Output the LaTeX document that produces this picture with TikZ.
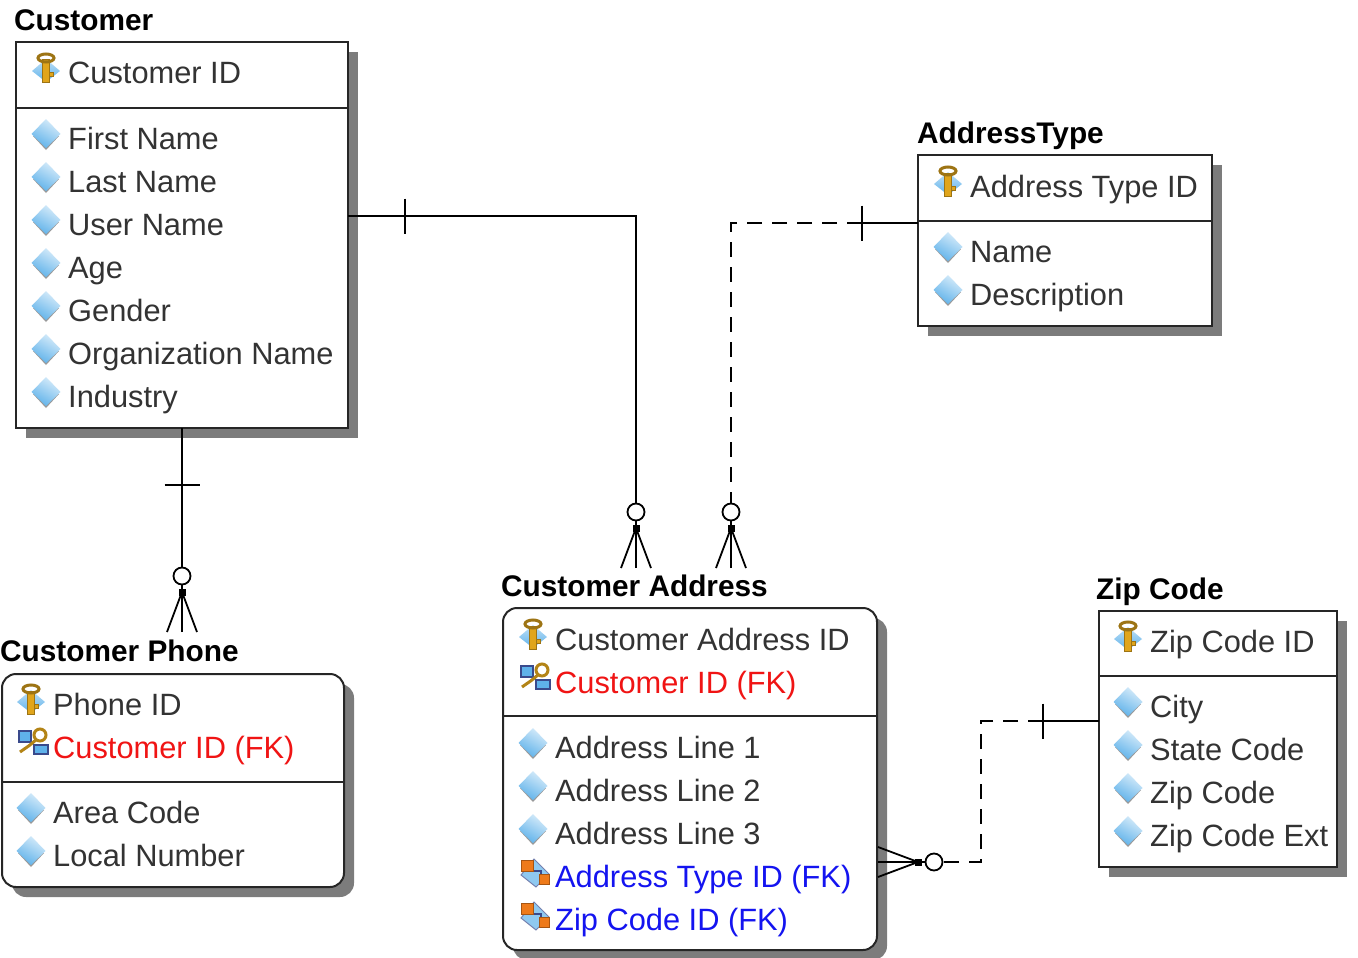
\documentclass[tikz,border=0pt]{standalone}
\usepackage{fontspec}
\setmainfont{Liberation Sans}
\usetikzlibrary{calc}
\usetikzlibrary{positioning}
\usetikzlibrary{shadows}

\definecolor{shadowgray}{HTML}{7C7C7C}
\definecolor{iconblue}{HTML}{5FB2EA}
\definecolor{icongold}{HTML}{E0A51C}
\definecolor{iconorange}{HTML}{EE7A1A}
\definecolor{iconnavy}{HTML}{3A4A8C}
\definecolor{fkblue}{HTML}{1414F0}
\definecolor{fkred}{HTML}{F01414}

\tikzset{
    pics/attricon/.style={code={
        \fill[gray!80] (-13,2) -- (0,16) -- (13,2) -- cycle;
        \shade[top color=iconblue!25, bottom color=iconblue, shading angle=-30] (-14.5,0) -- (0,-15) -- (14.5,0) -- (0,14) -- cycle;
    }},
    pics/pkicon/.style={code={
        \shade[top color=iconblue!40, bottom color=iconblue] (-14,2) -- (0,-10) -- (14,2) -- (0,13) -- cycle;
        \draw[icongold!70!black, fill=icongold, line width=1pt] (-3.5,-9) rectangle (3.5,14);
        \draw[icongold!70!black, fill=icongold, line width=1pt] (3,4) rectangle (7,8);
        \draw[icongold!70!black, line width=3pt] (0,-11) ellipse (8 and 4);
    }},
    pics/fkredicon/.style={code={
        \draw[iconnavy, fill=iconblue, line width=1.5pt] (-14,-11) rectangle (-2,0);
        \draw[iconnavy, fill=iconblue, line width=1.5pt] (1,3) rectangle (15,12);
        \draw[icongold!80!black, line width=3pt] (-13,10) -- (-3,3) -- (4,-3);
        \draw[icongold!80!black, fill=white, line width=3pt] (7,-7) circle (6);
    }},
    pics/fkblueicon/.style={code={
        \draw[iconnavy!70, fill=iconblue!70, line width=1pt] (-14,3) -- (-1,-13) -- (14,2) -- (1,15) -- cycle;
        \draw[iconnavy, line width=1.5pt] (-8,-1) -- (6,-1) -- (6,6);
        \draw[iconorange!70!black, fill=iconorange, line width=1pt] (-14,-12) rectangle (-2,-1);
        \draw[iconorange!70!black, fill=iconorange, line width=1pt] (4,2) rectangle (14,12);
    }},
    pics/crowfoot/.style={code={
        \draw[line width=1.8pt] (0,0) -- (0,-56);
        \draw[line width=1.8pt] (-15,0) -- (0,-40) -- (15,0);
        \fill (-3.5,-43.5) rectangle (3.5,-36.5);
        \draw[line width=1.8pt, fill=white] (0,-56) circle (8.5);
    }},
    pics/onetick/.style={code={
        \draw[line width=1.8pt] (0,-17.5) -- (0,17.5);
    }}
}

\begin{document}
\begin{tikzpicture}[x=1pt, y=-1pt,
    font=\fontsize{30.8pt}{34pt}\selectfont,
    tablebox/.style={draw=black!85, line width=2pt, fill=white, anchor=north west, inner sep=0pt, outer sep=0pt,
        drop shadow={shadow xshift=10pt, shadow yshift=-10pt, fill=shadowgray, opacity=1}},
    roundbox/.style={tablebox, rounded corners=14pt},
    tabletitle/.style={anchor=west, inner sep=0pt, text height=21pt, text depth=0pt, font=\fontsize{29.8pt}{34pt}\selectfont\bfseries},
    rowtext/.style={anchor=west, inner sep=0pt, text height=22pt, text depth=0pt, text=black!80},
    nextrow/.style={rowtext, below=43pt of #1.west, anchor=west},
    fkredrow/.style={nextrow=#1, text=fkred},
    fkbluerow/.style={nextrow=#1, text=fkblue},
    divider/.style={draw=black!85, line width=2pt},
    relation/.style={line width=1.8pt},
    optional/.style={relation, dash pattern=on 15pt off 10pt}]

    \useasboundingbox (0,0) rectangle (1358,958);

    % tables
    \node[tablebox, minimum width=332pt, minimum height=386pt] (customerbox) at (16,42) {};
    \node[tablebox, minimum width=294pt, minimum height=171pt] (addrtypebox) at (918,155) {};
    \node[roundbox, minimum width=342pt, minimum height=213pt] (phonebox) at (2,674) {};
    \node[roundbox, minimum width=374pt, minimum height=342pt] (addressbox) at (503,608) {};
    \node[tablebox, minimum width=238pt, minimum height=256pt] (zipbox) at (1099,611) {};

    \draw[divider] ([yshift=-66pt]customerbox.north west) -- ([yshift=-66pt]customerbox.north east);
    \draw[divider] ([yshift=-66pt]addrtypebox.north west) -- ([yshift=-66pt]addrtypebox.north east);
    \draw[divider] ([yshift=-108pt]phonebox.north west) -- ([yshift=-108pt]phonebox.north east);
    \draw[divider] ([yshift=-108pt]addressbox.north west) -- ([yshift=-108pt]addressbox.north east);
    \draw[divider] ([yshift=-65pt]zipbox.north west) -- ([yshift=-65pt]zipbox.north east);

    \node[tabletitle] (customertitle) at (14,20) {Customer};
    \node[tabletitle] (addrtypetitle) at (917,133) {AddressType};
    \node[tabletitle] (phonetitle) at (0,651) {Customer Phone};
    \node[tabletitle] (addresstitle) at (501,586) {Customer Address};
    \node[tabletitle] (ziptitle) at (1096,589) {Zip Code};

    % customer rows
    \node[rowtext] (customerid) at (68,73) {Customer ID};
    \node[rowtext] (firstname) at (68,138) {First Name};
    \node[nextrow=firstname] (lastname) {Last Name};
    \node[nextrow=lastname] (username) {User Name};
    \node[nextrow=username] (age) {Age};
    \node[nextrow=age] (gender) {Gender};
    \node[nextrow=gender] (orgname) {Organization Name};
    \node[nextrow=orgname] (industry) {Industry};

    % address type rows
    \node[rowtext] (addrtypeid) at (970,186) {Address Type ID};
    \node[rowtext] (typename) at (970,251) {Name};
    \node[nextrow=typename] (typedesc) {Description};

    % phone rows
    \node[rowtext] (phoneid) at (53,704) {Phone ID};
    \node[fkredrow=phoneid] (phonecustid) {Customer ID (FK)};
    \node[rowtext] (areacode) at (53,812) {Area Code};
    \node[nextrow=areacode] (localnumber) {Local Number};

    % customer address rows
    \node[rowtext] (addressid) at (555,639) {Customer Address ID};
    \node[fkredrow=addressid] (addrcustid) {Customer ID (FK)};
    \node[rowtext] (line1) at (555,747) {Address Line 1};
    \node[nextrow=line1] (line2) {Address Line 2};
    \node[nextrow=line2] (line3) {Address Line 3};
    \node[fkbluerow=line3] (addrtypefk) {Address Type ID (FK)};
    \node[fkbluerow=addrtypefk] (addrzipfk) {Zip Code ID (FK)};

    % zip code rows
    \node[rowtext] (zipid) at (1150,641) {Zip Code ID};
    \node[rowtext] (city) at (1150,706) {City};
    \node[nextrow=city] (state) {State Code};
    \node[nextrow=state] (zipcode) {Zip Code};
    \node[nextrow=zipcode] (zipext) {Zip Code Ext};

    % icons
    \foreach \row in {firstname,lastname,username,age,gender,orgname,industry,typename,typedesc,areacode,localnumber,line1,line2,line3,city,state,zipcode,zipext}
        \pic at ([xshift=-22pt,yshift=4pt]\row.west) {attricon};
    \foreach \row in {customerid,addrtypeid,phoneid,addressid,zipid}
        \pic at ([xshift=-22pt,yshift=4pt]\row.west) {pkicon};
    \foreach \row in {phonecustid,addrcustid}
        \pic at ([xshift=-20pt,yshift=5pt]\row.west) {fkredicon};
    \foreach \row in {addrtypefk,addrzipfk}
        \pic at ([xshift=-20pt,yshift=4pt]\row.west) {fkblueicon};

    % relations
    \coordinate (customerfoot) at (636,568);
    \coordinate (typefoot) at (731,568);
    \coordinate (phonefoot) at (182,632);
    \coordinate (zipfoot) at (878,862);
    \coordinate (typetick) at (862,223);
    \coordinate (ziptick) at (1043,721);

    \draw[relation] ([yshift=19pt]customerbox.east) -| (customerfoot);
    \draw[relation] (customerbox.south) -- (phonefoot);
    \draw[relation] ([yshift=-68pt]addrtypebox.north west) -- (typetick);
    \draw[optional] (typetick) -| (731,505);
    \draw[relation] ([yshift=-110pt]zipbox.north west) -- (ziptick);
    \draw[optional] (ziptick) -- (981,721) -- (981,862) -- (942,862);

    \pic at (customerfoot) {crowfoot};
    \pic at (typefoot) {crowfoot};
    \pic at (phonefoot) {crowfoot};
    \pic[rotate=-90] at (zipfoot) {crowfoot};

    \pic at (405,216) {onetick};
    \pic at (typetick) {onetick};
    \pic at (ziptick) {onetick};
    \pic[rotate=90] at (182,485) {onetick};
\end{tikzpicture}
\end{document}
